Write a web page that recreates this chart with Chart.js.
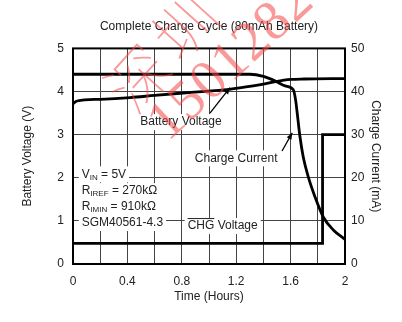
<!DOCTYPE html>
<html>
<head>
<meta charset="utf-8">
<script src="https://cdn.jsdelivr.net/npm/chart.js@4.4.0/dist/chart.umd.min.js"></script>
<style>
  body { margin: 0; background: #fff; }
</style>
</head>
<body>
<canvas id="grafico" width="402" height="322"></canvas>
<script>
// Datos
const tiempoVoltaje = [0, 0.03, 0.2, 0.42, 0.6, 0.79, 1.0, 1.15, 1.3, 1.4, 1.49, 1.6, 1.7, 2.0];
const voltajeBateria = [3.72, 3.78, 3.82, 3.86, 3.91, 3.96, 4.01, 4.05, 4.12, 4.17, 4.23, 4.28, 4.29, 4.3];

const tiempoCorriente = [0, 1.3, 1.4, 1.49, 1.56, 1.62, 1.637, 1.649, 1.669, 1.693, 1.73, 1.779, 1.84, 1.914, 2.0];
const corrienteCarga = [44, 44, 43.5, 42.4, 41.3, 40.4, 38.0, 34.9, 29.5, 24.8, 20.2, 15.6, 10.9, 7.9, 5.7];

const tiempoCHG = [0, 1.835, 1.835, 2.0];
const voltajeCHG = [0.48, 0.48, 3.0, 3.0];

const ticksTiempo = ["0", "0.4", "0.8", "1.2", "1.6", "2"];

const fuente = "'Liberation Sans', Arial, sans-serif";
const colorTexto = "#222";

function puntos(xs, ys) {
  return xs.map((x, i) => ({ x: x, y: ys[i] }));
}

// Texto con fondo blanco (tapa la rejilla), admite subindices
function textoConFondo(ctx, partes, x, y) {
  let ancho = 0;
  partes.forEach((p) => {
    ctx.font = (p[1] ? "8px " : "12px ") + fuente;
    ancho += ctx.measureText(p[0]).width;
  });
  ctx.fillStyle = "#fff";
  ctx.fillRect(x - 3, y - 8, ancho + 6, 16);
  ctx.fillStyle = colorTexto;
  ctx.textBaseline = "middle";
  ctx.textAlign = "left";
  let cx = x;
  partes.forEach((p) => {
    ctx.font = (p[1] ? "8px " : "12px ") + fuente;
    ctx.fillText(p[0], cx, p[1] ? y + 3 : y);
    cx += ctx.measureText(p[0]).width;
  });
  return ancho;
}

function flecha(ctx, x1, y1, x2, y2) {
  ctx.strokeStyle = "#000";
  ctx.fillStyle = "#000";
  ctx.lineWidth = 1.3;
  ctx.beginPath();
  ctx.moveTo(x1, y1);
  ctx.lineTo(x2, y2);
  ctx.stroke();
  const ang = Math.atan2(y2 - y1, x2 - x1);
  ctx.beginPath();
  ctx.moveTo(x2, y2);
  ctx.lineTo(x2 - 7 * Math.cos(ang - 0.4), y2 - 7 * Math.sin(ang - 0.4));
  ctx.lineTo(x2 - 7 * Math.cos(ang + 0.4), y2 - 7 * Math.sin(ang + 0.4));
  ctx.closePath();
  ctx.fill();
}

const anotaciones = {
  id: "anotaciones",
  beforeDatasetsDraw(chart) {
    const ctx = chart.ctx;
    const sx = chart.scales.x;
    const sy = chart.scales.y;
    const px = (t) => sx.getPixelForValue(t);
    const py = (v) => sy.getPixelForValue(v);
    ctx.save();

    // bloque de condiciones
    const x0 = px(0.064);
    textoConFondo(ctx, [["V", 0], ["IN", 1], [" = 5V", 0]], x0, py(2.08));
    textoConFondo(ctx, [["R", 0], ["IREF", 1], [" = 270kΩ", 0]], x0, py(1.69));
    textoConFondo(ctx, [["R", 0], ["IMIN", 1], [" = 910kΩ", 0]], x0, py(1.32));
    textoConFondo(ctx, [["SGM40561-4.3", 0]], x0, py(0.95));

    // CHG Voltage con barra encima
    const xc = px(0.843);
    const yc = py(0.88);
    textoConFondo(ctx, [["CHG Voltage", 0]], xc, yc);
    ctx.font = "12px " + fuente;
    const anchoCHG = ctx.measureText("CHG").width;
    ctx.strokeStyle = colorTexto;
    ctx.lineWidth = 1;
    ctx.beginPath();
    ctx.moveTo(xc, yc - 7.5);
    ctx.lineTo(xc + anchoCHG, yc - 7.5);
    ctx.stroke();

    // Battery Voltage
    ctx.font = "12px " + fuente;
    let w = ctx.measureText("Battery Voltage").width;
    textoConFondo(ctx, [["Battery Voltage", 0]], px(0.794) - w / 2, py(3.29));
    flecha(ctx, px(1.007), py(3.5), px(1.154), py(4.09));

    // Charge Current
    ctx.font = "12px " + fuente;
    w = ctx.measureText("Charge Current").width;
    textoConFondo(ctx, [["Charge Current", 0]], px(1.2) - w / 2, py(2.45));
    flecha(ctx, px(1.537), py(2.62), px(1.612), py(3.04));

    ctx.restore();
  },
  afterDraw(chart) {
    const ctx = chart.ctx;
    const a = chart.chartArea;
    ctx.save();
    // marco del grafico
    ctx.strokeStyle = "#000";
    ctx.lineWidth = 2;
    ctx.strokeRect(a.left, a.top, a.right - a.left, a.bottom - a.top);

    // marca de agua roja
    ctx.fillStyle = "rgba(245, 70, 70, 0.55)";
    ctx.textAlign = "center";
    ctx.textBaseline = "middle";
    ctx.save();
    ctx.translate(138, 78);
    ctx.rotate((-48 * Math.PI) / 180);
    ctx.font = "100 62px 'Noto Sans CJK SC'";
    ctx.fillText("深", 0, 0);
    ctx.fillText("圳", 70, 0);
    ctx.restore();

    ctx.save();
    ctx.translate(168, 122);
    ctx.rotate((-43 * Math.PI) / 180);
    ctx.font = "56px 'Liberation Serif'";
    const digitos = "1501282";
    for (let i = 0; i < digitos.length; i++) {
      ctx.fillText(digitos[i], i * 29, 0);
    }
    ctx.restore();
    ctx.restore();
  },
};

const ctx = document.getElementById("grafico").getContext("2d");

const myChart = new Chart(ctx, {
  type: "line",
  data: {
    datasets: [
      {
        label: "Battery Voltage",
        data: puntos(tiempoVoltaje, voltajeBateria),
        yAxisID: "y",
        borderColor: "#000",
        borderWidth: 2.8,
        pointRadius: 0,
        cubicInterpolationMode: "monotone",
      },
      {
        label: "Charge Current",
        data: puntos(tiempoCorriente, corrienteCarga),
        yAxisID: "y2",
        borderColor: "#000",
        borderWidth: 2.8,
        pointRadius: 0,
        cubicInterpolationMode: "monotone",
      },
      {
        label: "CHG Voltage",
        data: puntos(tiempoCHG, voltajeCHG),
        yAxisID: "y",
        borderColor: "#000",
        borderWidth: 2.8,
        pointRadius: 0,
        tension: 0,
      },
    ],
  },
  options: {
    responsive: false,
    animation: false,
    layout: { padding: 0 },
    plugins: {
      legend: { display: false },
      tooltip: { enabled: false },
      title: {
        display: true,
        text: "Complete Charge Cycle (80mAh Battery)",
        fullSize: false,
        color: colorTexto,
        font: { family: fuente, size: 12, weight: "normal" },
        padding: { top: 19, bottom: 15 },
      },
    },
    scales: {
      x: {
        type: "linear",
        min: 0,
        max: 2,
        ticks: {
          stepSize: 0.2,
          autoSkip: false,
          maxRotation: 0,
          padding: 10,
          color: colorTexto,
          font: { family: fuente, size: 12 },
          callback: (v) => {
            const n = Math.round(v * 10);
            return n % 4 === 0 ? ticksTiempo[n / 4] : "";
          },
        },
        grid: { color: "#444", lineWidth: 1, drawTicks: false },
        border: { display: false },
        title: {
          display: true,
          text: "Time (Hours)",
          color: colorTexto,
          font: { family: fuente, size: 12 },
          padding: { top: 0, bottom: 18 },
        },
        afterFit: (s) => {
          s.height = 58;
        },
      },
      y: {
        position: "left",
        min: 0,
        max: 5,
        ticks: {
          stepSize: 1,
          padding: 9,
          color: colorTexto,
          font: { family: fuente, size: 12 },
        },
        grid: { color: "#444", lineWidth: 1, drawTicks: false },
        border: { display: false },
        title: {
          display: true,
          text: "Battery Voltage (V)",
          color: colorTexto,
          font: { family: fuente, size: 12 },
          padding: { top: 20, bottom: 0 },
        },
        afterFit: (s) => {
          s.width = 73;
        },
      },
      y2: {
        position: "right",
        min: 0,
        max: 50,
        ticks: {
          stepSize: 10,
          padding: 6,
          color: colorTexto,
          font: { family: fuente, size: 12 },
        },
        grid: { display: false, drawTicks: false },
        border: { display: false },
        title: {
          display: true,
          text: "Charge Current (mA)",
          color: colorTexto,
          font: { family: fuente, size: 12 },
          padding: { top: 19, bottom: 0 },
        },
        afterFit: (s) => {
          s.width = 57;
        },
      },
    },
  },
  plugins: [anotaciones],
});
</script>
</body>
</html>
